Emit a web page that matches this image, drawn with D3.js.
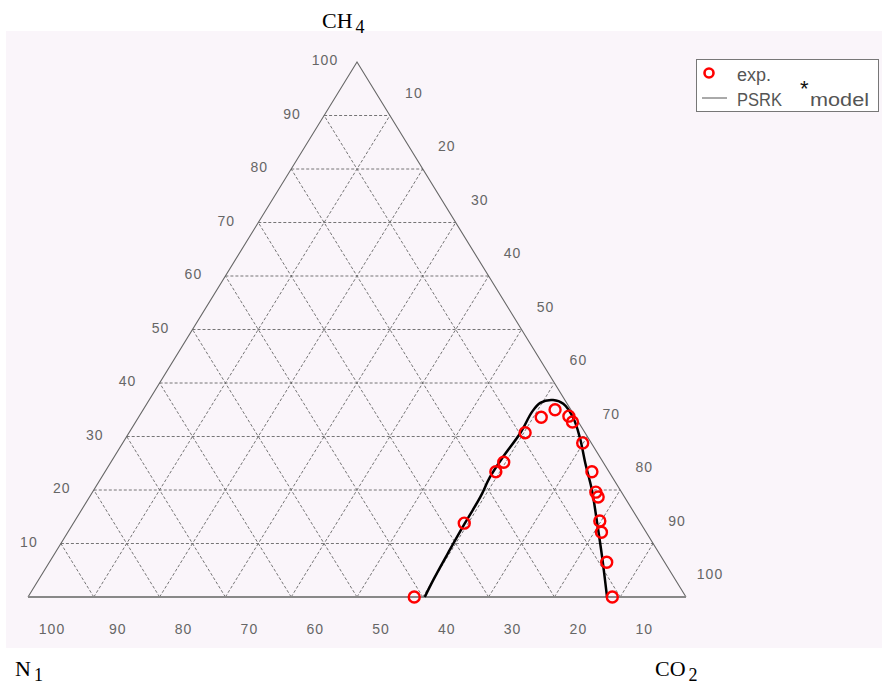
<!DOCTYPE html>
<html>
<head>
<meta charset="utf-8">
<script src="https://cdn.jsdelivr.net/npm/d3@7"></script>
<style>
  body { margin: 0; background: #fff; }
  svg { display: block; }
</style>
</head>
<body>
<script>
// ternary chart: CH4 (top), N2 (bottom left), CO2 (bottom right)
// values are in mole percent

const gridLevels = [10, 20, 30, 40, 50, 60, 70, 80, 90];
const tickLabels = [10, 20, 30, 40, 50, 60, 70, 80, 90, 100];

// experimental points [CH4, CO2]
const expCH4 = [0, 13.8, 23.4, 25.2, 30.7, 33.6, 35.0, 33.8, 32.7, 28.8, 23.4, 19.6, 18.7, 14.2, 12.1, 6.5, 0];
const expCO2 = [58.7, 59.4, 59.4, 59.7, 60.2, 61.2, 62.6, 65.3, 66.4, 69.9, 74.0, 76.5, 77.3, 79.8, 81.1, 84.7, 88.8];

// PSRK* model curve [CH4, CO2]
const modelCH4 = [0, 3.2, 8.8, 13.8, 18.7, 22.4, 26.2, 30.7, 34.6, 36.3, 36.8, 36.1, 33.5, 29.9, 25.0, 20.0, 13.8, 7.5, 0];
const modelCO2 = [60.3, 60.0, 59.7, 59.5, 59.4, 59.0, 59.1, 59.5, 59.3, 59.7, 61.4, 63.3, 66.1, 68.9, 72.2, 75.7, 79.6, 83.5, 88.0];

const width = 882, height = 688;

const svg = d3.select("body")
  .append("svg")
  .attr("width", width)
  .attr("height", height);

// pale plot background
svg.append("rect")
  .attr("x", 6).attr("y", 31)
  .attr("width", 876).attr("height", 617)
  .attr("fill", "#faf5fa");

// x runs with CO2 + CH4/2, y with CH4
const x = d3.scaleLinear().domain([0, 100]).range([28, 686]);
const y = d3.scaleLinear().domain([0, 100]).range([597, 62]);
function px(c, r) { return [x(r + c / 2), y(c)]; }

const grid = svg.append("g")
  .attr("fill", "none")
  .attr("stroke", "#666")
  .attr("stroke-width", 0.9)
  .attr("stroke-dasharray", "3,2");

gridLevels.forEach(v => {
  // constant CH4 (horizontal)
  let a = px(v, 0), b = px(v, 100 - v);
  grid.append("line").attr("x1", a[0]).attr("y1", a[1]).attr("x2", b[0]).attr("y2", b[1]);
  // constant CO2
  a = px(0, v); b = px(100 - v, v);
  grid.append("line").attr("x1", a[0]).attr("y1", a[1]).attr("x2", b[0]).attr("y2", b[1]);
  // constant N2
  a = px(0, 100 - v); b = px(100 - v, 0);
  grid.append("line").attr("x1", a[0]).attr("y1", a[1]).attr("x2", b[0]).attr("y2", b[1]);
});

// triangle frame
const pL = px(0, 0), pR = px(0, 100), pT = px(100, 0);
svg.append("path")
  .attr("d", `M${pL}L${pT}L${pR}`)
  .attr("fill", "none")
  .attr("stroke", "#666")
  .attr("stroke-width", 1.1);
svg.append("line")
  .attr("x1", pL[0]).attr("y1", pL[1]).attr("x2", pR[0]).attr("y2", pR[1])
  .attr("stroke", "#888")
  .attr("stroke-width", 2);

// tick labels
const ticks = svg.append("g")
  .attr("font-family", "'Liberation Sans', Arial, sans-serif")
  .attr("font-size", 14)
  .attr("letter-spacing", 1)
  .attr("fill", "#666")
  .attr("text-anchor", "middle");

tickLabels.forEach(v => {
  let p = px(v, 0); // left edge: CH4
  ticks.append("text").attr("x", p[0] - 32).attr("y", p[1] + 3).text(v);
  p = px(0, 100 - v); // bottom: N2
  ticks.append("text").attr("x", p[0] + 24).attr("y", p[1] + 37).text(v);
  p = px(100 - v, v); // right edge: CO2
  ticks.append("text").attr("x", p[0] + 24).attr("y", p[1] - 18).text(v);
});

// model curve
const line = d3.line()
  .x(d => px(d[0], d[1])[0])
  .y(d => px(d[0], d[1])[1])
  .curve(d3.curveCatmullRom);

svg.append("path")
  .datum(modelCH4.map((c, i) => [c, modelCO2[i]]))
  .attr("d", line)
  .attr("fill", "none")
  .attr("stroke", "#000")
  .attr("stroke-width", 2.5);

// experimental points
svg.append("g")
  .selectAll("circle")
  .data(expCH4.map((c, i) => [c, expCO2[i]]))
  .join("circle")
  .attr("cx", d => px(d[0], d[1])[0])
  .attr("cy", d => px(d[0], d[1])[1])
  .attr("r", 5.5)
  .attr("fill", "none")
  .attr("stroke", "#f00")
  .attr("stroke-width", 2.4);

// legend
const lg = svg.append("g");
lg.append("rect")
  .attr("x", 696.5).attr("y", 59.5)
  .attr("width", 182).attr("height", 52)
  .attr("fill", "#fff")
  .attr("stroke", "#777");
lg.append("circle")
  .attr("cx", 709).attr("cy", 73).attr("r", 4.5)
  .attr("fill", "none").attr("stroke", "#f00").attr("stroke-width", 2.6);
lg.append("line")
  .attr("x1", 702).attr("y1", 98).attr("x2", 727).attr("y2", 98)
  .attr("stroke", "#555").attr("stroke-width", 1);
const lt = lg.append("g")
  .attr("font-family", "'Liberation Sans', Arial, sans-serif")
  .attr("font-size", 18)
  .attr("fill", "#555");
lt.append("text").attr("x", 737).attr("y", 81).text("exp.");
lt.append("text").attr("x", 737).attr("y", 106)
  .attr("textLength", 45).attr("lengthAdjust", "spacingAndGlyphs").text("PSRK");
lt.append("text").attr("x", 800).attr("y", 96).attr("font-size", 22).attr("fill", "#111").text("*");
lt.append("text").attr("x", 810).attr("y", 106)
  .attr("textLength", 59).attr("lengthAdjust", "spacingAndGlyphs").text("model");

// component names
function compLabel(xp, yp, main, sub) {
  const t = svg.append("text")
    .attr("x", xp).attr("y", yp)
    .attr("font-family", "'Liberation Serif', 'Times New Roman', serif")
    .attr("font-size", 22)
    .attr("fill", "#000");
  t.append("tspan").text(main);
  t.append("tspan").attr("dx", 3).attr("dy", 5).attr("font-size", 18).text(sub);
}
compLabel(322, 28, "CH", "4");
compLabel(15, 676, "N", "1");
compLabel(655, 676, "CO", "2");
</script>
</body>
</html>
